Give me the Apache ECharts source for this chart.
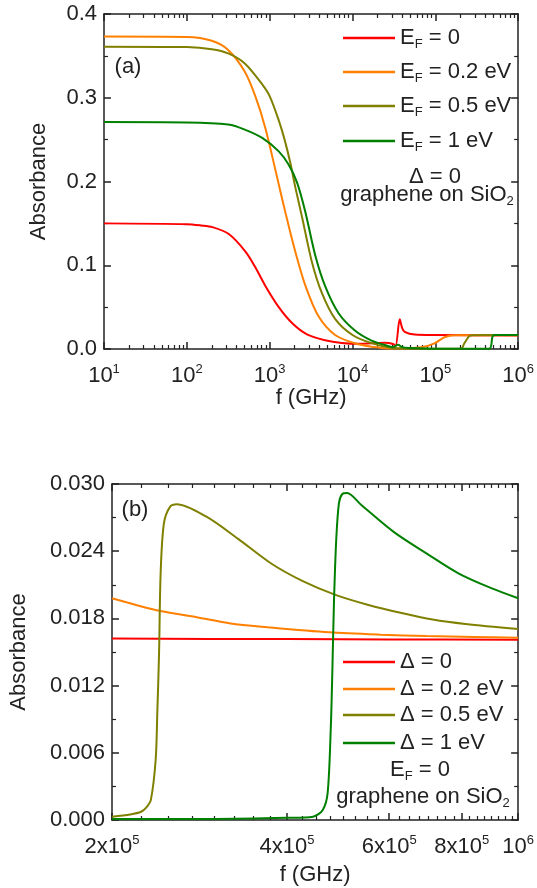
<!DOCTYPE html>
<html>
<head>
<meta charset="utf-8">
<script src="https://cdn.jsdelivr.net/npm/echarts@6/dist/echarts.min.js"></script>
<style>
  html, body { margin: 0; padding: 0; background: #fff; }
  #chart { width: 537px; height: 888px; }
</style>
</head>
<body>
<div id="chart"></div>
<script>
// Panel (a): Delta = 0, varying E_F  -> [f (GHz), absorbance]
const absEF0 = [[10,0.150],[100,0.149],[148,0.1475],[204,0.1455],[324,0.137],[513,0.116],[676,0.097],[891,0.075],[1288,0.050],[1862,0.031],[2818,0.0175],[4677,0.0105],[7413,0.0072],[11700,0.0062],[24500,0.0075],[30900,0.0060],[33100,0.0036],[37200,0.0354],[39800,0.025],[42700,0.0205],[56200,0.0172],[100000,0.0166],[1000000,0.0162]];
const absEF02 = [[10,0.373],[100,0.3725],[200,0.368],[316,0.357],[501,0.331],[676,0.301],[891,0.263],[1230,0.205],[1549,0.163],[2042,0.116],[2692,0.076],[3890,0.039],[6166,0.0167],[10700,0.0068],[17000,0.0028],[31600,0.0005],[67600,0.002],[97700,0.0068],[129000,0.014],[170000,0.0163],[1000000,0.0163]];
const absEF05 = [[10,0.361],[100,0.3605],[200,0.358],[316,0.353],[501,0.341],[813,0.316],[1000,0.302],[1288,0.273],[1514,0.250],[1778,0.222],[2042,0.193],[2455,0.158],[3236,0.104],[4266,0.067],[6166,0.036],[10000,0.0167],[17000,0.007],[31600,0.0012],[100000,0.0003],[204000,0.0003],[224000,0.0068],[257000,0.0155],[282000,0.0165],[1000000,0.0166]];
const absEF1 = [[10,0.271],[100,0.2705],[316,0.268],[501,0.262],[813,0.252],[1288,0.236],[1698,0.220],[2138,0.199],[2692,0.164],[3548,0.112],[4677,0.075],[6761,0.043],[10700,0.022],[17000,0.010],[26900,0.0036],[30900,0.0022],[35500,0.0052],[39800,0.0022],[50100,0.0012],[100000,0.0003],[447000,0.0004],[490000,0.0147],[525000,0.0166],[1000000,0.0166]];

// Panel (b): E_F = 0, varying Delta
const absD0 = [[200000,0.0162],[400000,0.01615],[600000,0.01612],[1000000,0.0161]];
const absD02 = [[200000,0.0198],[220000,0.0192],[242500,0.01866],[280000,0.0181],[320000,0.01755],[370000,0.01722],[473000,0.01676],[580000,0.01655],[695400,0.01643],[840000,0.01635],[1000000,0.01628]];
const absD05 = [[200000,0.0003],[215000,0.0005],[224500,0.00074],[229000,0.0011],[233300,0.0018],[237800,0.0054],[239400,0.0098],[241000,0.0149],[242500,0.0220],[245700,0.0265],[252000,0.0280],[258600,0.0282],[290300,0.0271],[329700,0.0251],[375800,0.0229],[426900,0.0213],[484800,0.0201],[552500,0.0192],[627400,0.0185],[712500,0.0179],[812000,0.0175],[1000000,0.01705]];
const absD1 = [[200000,0.0001],[300000,0.0001],[400000,0.0002],[443600,0.0003],[461000,0.0009],[470000,0.0024],[476000,0.0083],[479000,0.0135],[482000,0.0195],[486500,0.0252],[491600,0.0283],[498000,0.0291],[507600,0.0292],[537800,0.0281],[611400,0.0257],[695400,0.0238],[790600,0.0220],[898800,0.0207],[1000000,0.0198]];

// Ticks
const topXTicks = [10, 100, 1000, 10000, 100000, 1000000];
const botXTicks = [200000, 400000, 600000, 800000, 1000000];
const botXTickLabels = [['2x10','5'],['4x10','5'],['6x10','5'],['8x10','5'],['10','6']];

const colores = { r: '#ff0000', o: '#ff8000', ol: '#808000', g: '#008000' };
const fuente = "'Liberation Sans', Arial, sans-serif";
const negro = '#222';
const tam = 22;

// minor ticks: 2..9 per decade on top panel, every 25000 on the bottom one
const topXMinor = [];
for (let d = 1; d < 6; d++) {
  for (let m = 2; m <= 9; m++) topXMinor.push(m * Math.pow(10, d));
}
const botXMinor = [];
for (let v = 225000; v < 1000000; v += 25000) {
  if (v % 200000 !== 0) botXMinor.push(v);
}

const lineaEje = { show: true, lineStyle: { color: negro, width: 1.5 } };
const richLabel = {
  b: { fontSize: tam, fontFamily: fuente, color: negro },
  sup: { fontSize: 13, fontFamily: fuente, color: negro, padding: [0, 0, 12, 0] }
};

function ejesX(grid, min, max, mayores, menores, formato, nameGap) {
  const base = {
    type: 'log', logBase: 10, gridIndex: grid, min: min, max: max,
    splitLine: { show: false }, axisLine: { show: false },
    axisLabel: { show: false }, axisTick: { show: false }
  };
  return [
    Object.assign({}, base, {
      position: 'bottom', axisLine: lineaEje,
      axisTick: { show: true, inside: true, length: 7, customValues: mayores, lineStyle: { color: negro, width: 1.5 } },
      axisLabel: { show: true, customValues: mayores, formatter: formato, margin: 14, rich: richLabel },
      name: 'f (GHz)', nameLocation: 'middle', nameGap: nameGap,
      nameTextStyle: { fontSize: tam, fontFamily: fuente, color: negro }
    }),
    Object.assign({}, base, {
      position: 'bottom',
      axisTick: { show: true, inside: true, length: 4, customValues: menores, lineStyle: { color: negro, width: 1.2 } }
    }),
    Object.assign({}, base, {
      position: 'top', axisLine: lineaEje,
      axisTick: { show: true, inside: true, length: 7, customValues: mayores, lineStyle: { color: negro, width: 1.5 } }
    }),
    Object.assign({}, base, {
      position: 'top',
      axisTick: { show: true, inside: true, length: 4, customValues: menores, lineStyle: { color: negro, width: 1.2 } }
    })
  ];
}

function ejesY(grid, max, intervalo, decimales, nameGap) {
  const base = {
    type: 'value', gridIndex: grid, min: 0, max: max, interval: intervalo,
    splitLine: { show: false }, axisLine: lineaEje,
    axisTick: { show: true, inside: true, length: 7, lineStyle: { color: negro, width: 1.5 } },
    minorTick: { show: true, splitNumber: 2, length: 4, lineStyle: { color: negro, width: 1.2 } }
  };
  return [
    Object.assign({}, base, {
      position: 'left',
      axisLabel: { formatter: v => v.toFixed(decimales), fontSize: tam, fontFamily: fuente, color: negro, margin: 7 },
      name: 'Absorbance', nameLocation: 'middle', nameGap: nameGap,
      nameTextStyle: { fontSize: tam, fontFamily: fuente, color: negro }
    }),
    Object.assign({}, base, { position: 'right', axisLabel: { show: false } })
  ];
}

function serie(nombre, datos, color, xIdx, yIdx) {
  return {
    name: nombre, type: 'line', data: datos, xAxisIndex: xIdx, yAxisIndex: yIdx,
    symbol: 'none', showSymbol: false, smooth: 0.3,
    lineStyle: { color: color, width: 2 }, itemStyle: { color: color }
  };
}

const textoLeyenda = {
  'EF0': '{e|E}{s|F}{e| = 0}',
  'EF02': '{e|E}{s|F}{e| = 0.2 eV}',
  'EF05': '{e|E}{s|F}{e| = 0.5 eV}',
  'EF1': '{e|E}{s|F}{e| = 1 eV}',
  'D0': '{e|\u0394 = 0}',
  'D02': '{e|\u0394 = 0.2 eV}',
  'D05': '{e|\u0394 = 0.5 eV}',
  'D1': '{e|\u0394 = 1 eV}'
};
const richTexto = {
  e: { fontSize: tam, fontFamily: fuente, color: negro },
  s: { fontSize: 13, fontFamily: fuente, color: negro, padding: [12, 0, 0, 0] }
};

function leyenda(nombre, centroY) {
  return {
    data: [{ name: nombre, icon: 'rect' }], left: 343, top: centroY - 10, orient: 'vertical',
    itemWidth: 52, itemHeight: 2.5, padding: 0,
    formatter: n => textoLeyenda[n],
    textStyle: { rich: richTexto }
  };
}

function texto(x, y, contenido) {
  return {
    type: 'text', x: x, y: y,
    style: { text: contenido, align: 'center', verticalAlign: 'middle', rich: richTexto, font: tam + 'px ' + fuente, fill: negro }
  };
}

const chart = echarts.init(document.getElementById('chart'), null, { renderer: 'canvas' });

chart.setOption({
  animation: false,
  backgroundColor: '#fff',
  grid: [
    { left: 104, top: 14, width: 417, height: 335 },
    { left: 104, top: 484, width: 417, height: 336 }
  ],
  xAxis: [].concat(
    ejesX(0, 10, 1000000, topXTicks, topXMinor,
      v => '{b|10}{sup|' + Math.round(Math.log10(v)) + '}', 37),
    ejesX(1, 200000, 1000000, botXTicks, botXMinor,
      v => {
        const i = botXTicks.findIndex(t => Math.abs(t - v) / t < 1e-6);
        const l = botXTickLabels[i < 0 ? 0 : i];
        return '{b|' + l[0] + '}{sup|' + l[1] + '}';
      }, 44)
  ),
  yAxis: [].concat(
    ejesY(0, 0.4, 0.1, 1, 54),
    ejesY(1, 0.03, 0.006, 3, 82)
  ),
  legend: [
    leyenda('EF0', 37), leyenda('EF02', 71), leyenda('EF05', 105), leyenda('EF1', 140),
    leyenda('D0', 661), leyenda('D02', 688), leyenda('D05', 714), leyenda('D1', 742)
  ],
  series: [
    serie('EF0', absEF0, colores.r, 0, 0),
    serie('EF02', absEF02, colores.o, 0, 0),
    serie('EF05', absEF05, colores.ol, 0, 0),
    serie('EF1', absEF1, colores.g, 0, 0),
    serie('D0', absD0, colores.r, 4, 2),
    serie('D02', absD02, colores.o, 4, 2),
    serie('D05', absD05, colores.ol, 4, 2),
    serie('D1', absD1, colores.g, 4, 2)
  ],
  graphic: [
    texto(128, 67, '{e|(a)}'),
    texto(435, 177, '{e|\u0394 = 0}'),
    texto(427, 195, '{e|graphene on SiO}{s|2}'),
    texto(135, 510, '{e|(b)}'),
    texto(420, 770, '{e|E}{s|F}{e| = 0}'),
    texto(423, 797, '{e|graphene on SiO}{s|2}')
  ]
});
</script>
</body>
</html>
